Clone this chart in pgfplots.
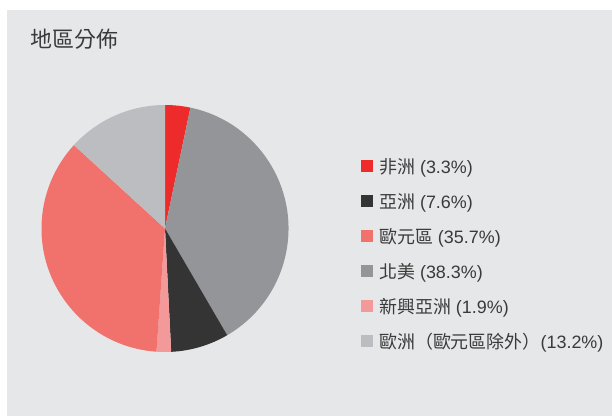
\documentclass[border=0pt]{standalone}
\usepackage{fontspec}
\setmainfont{Liberation Sans}
\newfontfamily\cjk{Noto Sans CJK TC}
\usepackage{pgfplots}
\usepackage{pgfplotstable}
\pgfplotsset{compat=1.18}
\definecolor{bgc}{HTML}{E6E7E8}
\definecolor{cA}{HTML}{EE2B2B}
\definecolor{cB}{HTML}{333433}
\definecolor{cC}{HTML}{F1716C}
\definecolor{cD}{HTML}{939598}
\definecolor{cE}{HTML}{F4999A}
\definecolor{cF}{HTML}{BCBDC0}
\definecolor{txt}{HTML}{3A3A3A}
% slices in clockwise order from 12 o'clock
\pgfplotstableread{
name value col
Africa 3.3 cA
NorthAmerica 38.3 cD
Asia 7.6 cB
EmergingAsia 1.9 cE
Eurozone 35.7 cC
EuropeExEuro 13.2 cF
}\piedata
\begin{document}
\begin{tikzpicture}[x=1bp,y=1bp]
\useasboundingbox (0,0) rectangle (612,416);
\fill[white] (0,0) rectangle (612,416);
\fill[bgc] (7,0) rectangle (612,406);
\node[anchor=base west,inner sep=0,text=txt,font=\cjk\fontsize{22}{26}\selectfont] at (30.5,369) {地區分佈};
\begin{axis}[at={(165bp,187.5bp)},anchor=center,scale only axis,
  width=247bp,height=247bp,xmin=-1,xmax=1,ymin=-1,ymax=1,hide axis]
\def\angA{90}
\pgfplotsforeachungrouped \i in {0,...,5}{%
  \pgfplotstablegetelem{\i}{value}\of\piedata \let\sliceval\pgfplotsretval
  \pgfplotstablegetelem{\i}{col}\of\piedata \let\slicecol\pgfplotsretval
  \pgfmathsetmacro\angB{\angA-3.6*\sliceval}%
  \edef\cmd{\noexpand\fill[\slicecol] (axis cs:0,0) -- (axis cs:{cos(\angA)},{sin(\angA)}) arc[start angle=\angA, end angle=\angB, radius=123.5bp] -- cycle;}%
  \cmd
  \let\angA\angB
}
\end{axis}
\foreach \col/\lab [count=\k from 0] in {cA/{{\cjk 非洲} (3.3\%)},cB/{{\cjk 亞洲} (7.6\%)},cC/{{\cjk 歐元區} (35.7\%)},cD/{{\cjk 北美} (38.3\%)},cE/{{\cjk 新興亞洲} (1.9\%)},cF/{{\cjk 歐洲（歐元區除外）}(13.2\%)}}{
  \fill[\col] (361,{250-35*\k-6}) rectangle (373,{250-35*\k+6});
  \node[anchor=base west,inner sep=0,text=txt,font=\fontsize{18}{22}\selectfont] at (379,{250-35*\k-7}) {\lab};
}
\end{tikzpicture}
\end{document}
